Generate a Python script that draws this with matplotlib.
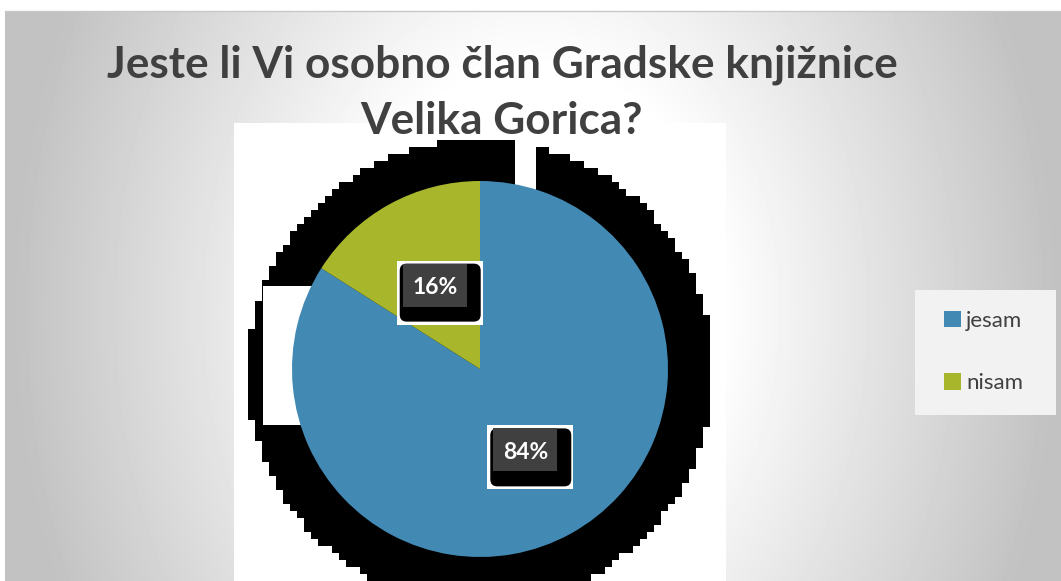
import numpy as np
import matplotlib.pyplot as plt
from matplotlib.patches import Rectangle, FancyBboxPatch

# survey answers
labels = ['jesam', 'nisam']
shares = [84, 16]
colors = ['#4289B4', '#A7B62A']
title_lines = ['Jeste li Vi osobno član Gradske knjižnice', 'Velika Gorica?']

W, H = 1061, 581
fig = plt.figure(figsize=(W / 100, H / 100), dpi=100)
fig.patch.set_facecolor('white')

# grey radial background, like an office slide
bg = fig.add_axes([0, 0, 1, 1])
bg.set_xlim(0, W)
bg.set_ylim(0, H)
bg.axis('off')
yy, xx = np.mgrid[0:H - 11, 0:W - 5]
d = np.sqrt((xx - 530) ** 2 + (0.75 * (yy - 300)) ** 2)
shade = np.clip(1.13 - 0.00071 * d, 0.76, 1)
bg.imshow(shade, cmap='gray', vmin=0, vmax=1, extent=[5, W, 0, H - 11],
          origin='upper', aspect='auto', zorder=0)
bg.plot([5, W], [H - 11, H - 11], color='#c8c8c8', lw=1, zorder=1)

# everything below uses pixel coordinates (y measured from bottom)
ax = fig.add_axes([0, 0, 1, 1])

# white plot area
ax.add_patch(Rectangle((234, 0), 492, H - 123, facecolor='white', edgecolor='none', zorder=1))

# blocky black shadow behind the pie
cell = 7
gx = np.arange(234, 726, cell) + cell / 2
gy = np.arange(0, H - 123, cell) + cell / 2
GX, GY = np.meshgrid(gx, gy)
mask = ((GX - 480) ** 2 + (GY - (H - 372)) ** 2) <= 233 ** 2
img = np.where(mask, 0.0, np.nan)
ax.imshow(img, cmap='gray', vmin=0, vmax=1, origin='lower', interpolation='nearest',
          extent=[234, 234 + len(gx) * cell, 0, len(gy) * cell], aspect='auto', zorder=2)
ax.add_patch(Rectangle((515, H - 195), 21, 60, facecolor='white', edgecolor='none', zorder=2.5))
ax.add_patch(Rectangle((263, H - 425), 50, 139, facecolor='white', edgecolor='none', zorder=2.5))

wedges, _, autotexts = ax.pie(shares, colors=colors, startangle=90, counterclock=False,
                              center=(480, H - 369), radius=188, autopct='%1.0f%%',
                              pctdistance=0.5, frame=True,
                              wedgeprops=dict(linewidth=0, zorder=3),
                              textprops=dict(color='white', fontsize=16.5, fontweight='bold',
                                             family='Lato', zorder=6))
ax.set_xlim(0, W)
ax.set_ylim(0, H)
ax.axis('off')

# label boxes: white frame, black rounded box, grey tile with text
for t in autotexts:
    cx, cy = t.get_position()
    cx, cy = cx + 5, cy - 6
    t.set_position((cx - 5, cy + 5))
    ax.add_patch(Rectangle((cx - 43, cy - 32), 86, 64, facecolor='white', edgecolor='none', zorder=4))
    ax.add_patch(FancyBboxPatch((cx - 40, cy - 29), 81, 58, boxstyle='round,pad=0,rounding_size=7',
                                facecolor='black', edgecolor='none', zorder=4.5))
    ax.add_patch(Rectangle((cx - 37, cy - 14), 64, 43, facecolor='#404040', edgecolor='none', zorder=5))

# title, fitted to the width it has in the reference
renderer = fig.canvas.get_renderer()
t1 = ax.text(502, H - 65, title_lines[0], ha='center', va='center',
             fontsize=29, fontweight='bold', color='#404040', family='Lato')
w = t1.get_window_extent(renderer).width
size = 29 * 790 / w
t1.set_fontsize(size)
ax.text(502, H - 121, title_lines[1], ha='center', va='center',
        fontsize=size, fontweight='bold', color='#404040', family='Lato')

# legend
ax.add_patch(Rectangle((915, H - 415), 141, 125, facecolor='#F2F2F2', edgecolor='none', zorder=1))
leg = ax.legend(wedges, labels, loc='upper left', bbox_to_anchor=(944, H - 311),
                bbox_transform=ax.transData, frameon=False,
                prop=dict(family='Lato', size=16), labelspacing=1.9,
                handlelength=0.75, handleheight=0.75, handletextpad=0.25,
                borderpad=0, borderaxespad=0)
for txt in leg.get_texts():
    txt.set_color('#404040')

fig.savefig('out.png', dpi=100)
